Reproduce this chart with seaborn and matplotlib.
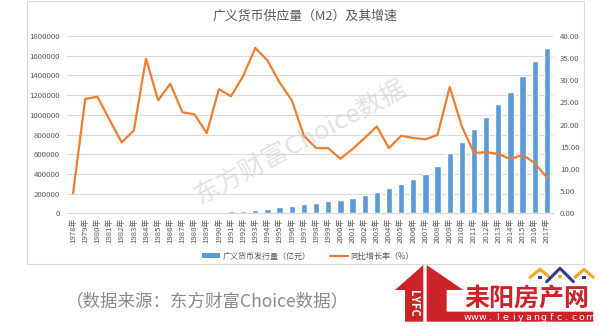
import numpy as np
import pandas as pd
import matplotlib
matplotlib.use("Agg")
import matplotlib.pyplot as plt
import seaborn as sns
from matplotlib.patches import Rectangle, Polygon
from matplotlib.lines import Line2D

years = [str(y) + "年" for y in range(1978, 2018)]
m2 = [1159, 1458, 1843, 2235, 2589, 3075, 4146, 5198, 6721, 8350,
      10100, 11950, 15293, 19350, 25402, 34880, 46924, 60750, 76095, 90995,
      104499, 119898, 134610, 158302, 185007, 221223, 254107, 298756, 345578, 403442,
      475167, 610225, 725852, 851591, 974149, 1106525, 1228375, 1392278, 1550067, 1676800]
growth = [4.5, 25.8, 26.3, 21.1, 16.0, 18.7, 34.9, 25.5, 29.2, 22.8,
          22.3, 18.1, 28.0, 26.4, 31.0, 37.3, 34.5, 29.5, 25.5, 17.5,
          14.7, 14.7, 12.3, 14.5, 17.0, 19.6, 14.7, 17.5, 17.0, 16.7,
          17.7, 28.5, 19.6, 13.6, 13.8, 13.4, 12.2, 13.2, 11.3, 8.1]
left_ticks = list(range(0, 1800001, 200000))
right_ticks = [0, 5, 10, 15, 20, 25, 30, 35, 40]

title = "广义货币供应量（M2）及其增速"
bar_label = "广义货币发行量（亿元）"
line_label = "同比增长率（%）"
source = "（数据来源：东方财富Choice数据）"
watermark = "东方财富Choice数据"
logo_name = "耒阳房产网"
logo_url = "www.leiyangfc.com"

df = pd.DataFrame({"year": years, "m2": m2, "growth": growth})
df["pos"] = np.arange(len(df))

sns.set_theme(style="white")
plt.rcParams['font.family'] = ['Noto Sans CJK SC', 'DejaVu Sans']

W, H = 599, 327
fig = plt.figure(figsize=(W / 100, H / 100), dpi=100)

def fx(px):
    return px / W

def fy(py):
    return 1 - py / H

# outer chart border
fig.patches.append(Rectangle((fx(27.5), fy(264)), fx(584) - fx(27.5), fy(1) - fy(264),
                             transform=fig.transFigure, fill=False,
                             edgecolor="#D9D9D9", linewidth=0.8, zorder=0))

ax = fig.add_axes([fx(67), fy(213.3), fx(553) - fx(67), fy(36) - fy(213.3)])
blue = "#5B9BD5"
orange = "#ED7D31"
tick_color = "#595959"

sns.barplot(data=df, x="year", y="m2", color=blue, width=0.52, saturation=1,
            ax=ax, zorder=2)
ax.set_xlim(-0.5, len(df) - 0.5)
ax.set_ylim(0, 1800000)
ax.set_yticks(left_ticks)
ax.set_yticklabels([str(v) for v in left_ticks])
ax.yaxis.grid(True, color="#D9D9D9", linewidth=0.8)
ax.set_axisbelow(True)
ax.set_xlabel("")
ax.set_ylabel("")
for s in ["top", "right", "left"]:
    ax.spines[s].set_visible(False)
ax.spines["bottom"].set_color("#D9D9D9")
ax.spines["bottom"].set_linewidth(0.8)
ax.tick_params(axis="y", length=0, pad=5, labelsize=5.6, labelcolor=tick_color)
ax.tick_params(axis="x", length=0, pad=3, labelsize=5.6, labelcolor=tick_color,
               rotation=90)

ax2 = ax.twinx()
sns.lineplot(data=df, x="pos", y="growth", color=orange, linewidth=1.6, ax=ax2,
             zorder=3)
ax2.set_ylim(0, 40)
ax2.set_yticks(right_ticks)
ax2.set_yticklabels([f"{v:.2f}" for v in right_ticks])
ax2.set_xlim(-0.5, len(df) - 0.5)
ax2.set_ylabel("")
ax2.set_xlabel("")
for s in ["top", "right", "left", "bottom"]:
    ax2.spines[s].set_visible(False)
ax2.tick_params(axis="y", length=0, pad=5, labelsize=5.6, labelcolor=tick_color)
ax2.grid(False)

# title
fig.text(fx(305), fy(16), title, ha="center", va="center", fontsize=9.3,
         color=tick_color)

# legend
handles = [Rectangle((0, 0), 1, 1, facecolor=blue, edgecolor="none"),
           Line2D([0], [0], color=orange, linewidth=1.6)]
fig.legend(handles, [bar_label, line_label], loc="center",
           bbox_to_anchor=(fx(308), fy(256)), ncol=2, frameon=False,
           fontsize=5.8, handlelength=2.2, handleheight=0.5, columnspacing=2.4,
           handletextpad=0.3, labelcolor=tick_color)

# watermark
fig.text(fx(300), fy(142), watermark, ha="center", va="center", rotation=28,
         fontsize=18.5, color="#C8C8C8", alpha=0.5, zorder=10)

# source text
fig.text(fx(66), fy(301), source, ha="left", va="center", fontsize=12.6,
         color="#8A8A8A")

# logo
red = "#CC2229"
def zp(zx, zy):
    return (fx(380 + zx / 3), fy(240 + zy / 3))

left_part = [zp(45, 150), zp(130, 75), zp(130, 245), zp(75, 245), zp(75, 150)]
right_part = [zp(140, 75), zp(250, 150), zp(200, 150), zp(200, 215), zp(640, 215),
              zp(640, 245), zp(140, 245)]
for pts in (left_part, right_part):
    fig.patches.append(Polygon(pts, closed=True, transform=fig.transFigure,
                               facecolor=red, edgecolor="none", zorder=5))
fig.text(*zp(100, 190), "LYFC", rotation=-90, ha="center", va="center",
         color="white", fontsize=8, fontweight="bold", zorder=6)
fig.text(*zp(440, 176), logo_name, ha="center", va="center", color=red,
         fontsize=18, fontweight="bold", zorder=6)
n = len(logo_url)
step = (640 - 250) / n
for i, ch in enumerate(logo_url):
    fig.text(*zp(250 + step * (i + 0.5), 231), ch, ha="center", va="center",
             color="white", fontsize=6.8, family="DejaVu Sans", zorder=6)

roofs = [([450, 480, 510], [112, 88, 112], "#F5A623"),
         ([500, 540, 580], [125, 85, 125], "#2E3A8C"),
         ([585, 612, 640], [112, 88, 112], "#F5A623")]
for xs, ys, c in roofs:
    pts = [zp(a, b) for a, b in zip(xs, ys)]
    fig.lines.append(Line2D([p[0] for p in pts], [p[1] for p in pts],
                            transform=fig.transFigure, color=c, linewidth=2.2,
                            zorder=6))
for wx, wy, c in [(480, 112, "#2E3A8C"), (540, 110, "#F5A623"), (612, 112, "#2E3A8C")]:
    x0, y0 = zp(wx - 5, wy + 5)
    fig.patches.append(Rectangle((x0, y0), fx(3.3), fy(0) - fy(3.3),
                                 transform=fig.transFigure, facecolor=c,
                                 edgecolor="none", zorder=6))

fig.savefig("out.png", dpi=100)
